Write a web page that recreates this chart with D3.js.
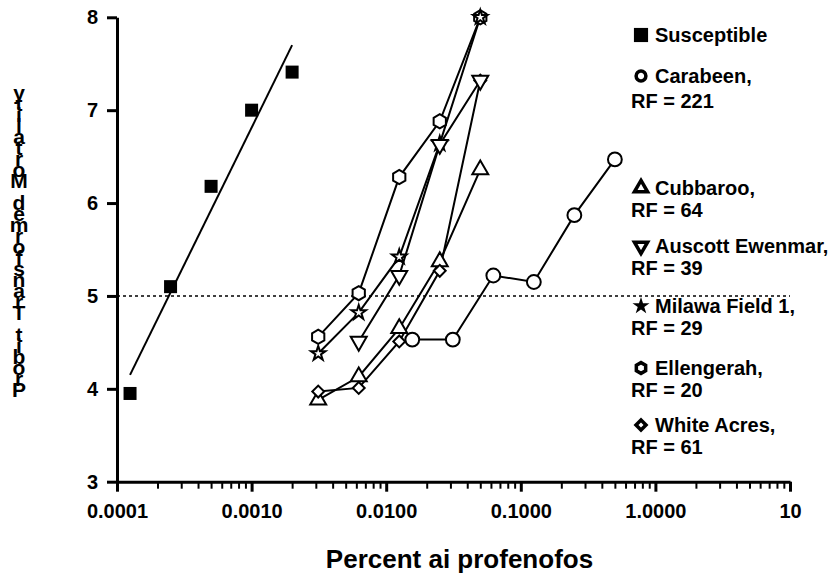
<!DOCTYPE html>
<html>
<head>
<meta charset="utf-8">
<script src="https://cdn.jsdelivr.net/npm/d3@7"></script>
<style>
  body { margin: 0; background: #fff; }
  text { font-family: "Liberation Sans", Arial, sans-serif; font-weight: bold; fill: #000; }
</style>
</head>
<body>
<div id="chart"></div>
<script>
const [width, height] = [833, 574];

// data (x = percent ai, y = probit)
const susX = [0.000125, 0.00025, 0.0005, 0.001, 0.002];
const susY = [3.95, 5.10, 6.18, 7.00, 7.41];
const fitX = [0.000125, 0.002];
const fitY = [4.15, 7.70];

const carabeenX = [0.015625, 0.03125, 0.0625, 0.125, 0.25, 0.5];
const carabeenY = [4.53, 4.53, 5.22, 5.15, 5.87, 6.47];

const doseX = [0.003125, 0.00625, 0.0125, 0.025, 0.05];
const cubbarooY = [3.88, 4.13, 4.65, 5.37, 6.36];
const auscottX = [0.00625, 0.0125, 0.025, 0.05];
const auscottY = [4.51, 5.22, 6.63, 7.32];
const milawaY = [4.38, 4.82, 5.42, 6.64, 8.0];
const ellengerahY = [4.56, 5.03, 6.28, 6.88, 8.0];
const whiteAcresY = [3.97, 4.01, 4.51, 5.27, 7.32];

const xTicks = [0.0001, 0.001, 0.01, 0.1, 1, 10];
const xTickLabels = ["0.0001", "0.0010", "0.0100", "0.1000", "1.0000", "10"];
const yTicks = [3, 4, 5, 6, 7, 8];

const legendNames = ["Susceptible", "Carabeen,", "Cubbaroo,", "Auscott Ewenmar,", "Milawa Field 1,", "Ellengerah,", "White Acres,"];
const legendRF = [null, "RF = 221", "RF = 64", "RF = 39", "RF = 29", "RF = 20", "RF = 61"];

const xTitle = "Percent ai profenofos";
const yTitle = "Probit Transformed Mortality";

// layout
const plot = {left: 117, right: 790, top: 17.3, bottom: 481.7};

const svg = d3.select("#chart")
    .append("svg")
    .attr("width", width)
    .attr("height", height);

const x = d3.scaleLog().domain([0.0001, 10]).range([plot.left, plot.right]);
const y = d3.scaleLinear().domain([3, 8]).range([plot.bottom, plot.top]);

// hexagon symbol
const hexagon = {
    draw(context, size) {
        const r = Math.sqrt(size / (1.5 * Math.sqrt(3)));
        for (let i = 0; i < 6; i++) {
            const a = Math.PI / 6 + i * Math.PI / 3;
            const px = r * Math.cos(a), py = r * Math.sin(a);
            if (i === 0) context.moveTo(px, py); else context.lineTo(px, py);
        }
        context.closePath();
    }
};

// dotted LD50 line
svg.append("line")
    .attr("x1", x(0.0001)).attr("x2", x(10))
    .attr("y1", y(5)).attr("y2", y(5))
    .attr("stroke", "#000").attr("stroke-width", 1.5)
    .attr("stroke-dasharray", "3,3");

// axes
const xMinor = [];
for (let e = -4; e < 1; e++) for (let m = 2; m <= 9; m++) xMinor.push(m * Math.pow(10, e));

const xAxisMinor = svg.append("g")
    .attr("transform", `translate(0,${plot.bottom})`)
    .call(d3.axisBottom(x).tickValues(xMinor).tickSize(7).tickFormat(""));
xAxisMinor.select(".domain").remove();
xAxisMinor.selectAll("line").attr("stroke-width", 2);

const xAxis = svg.append("g")
    .attr("transform", `translate(0,${plot.bottom})`)
    .call(d3.axisBottom(x).tickValues(xTicks).tickSize(10).tickSizeOuter(0).tickPadding(12)
        .tickFormat((d, i) => xTickLabels[i]));
xAxis.select(".domain").attr("stroke-width", 3);
xAxis.selectAll("line").attr("stroke-width", 3);
xAxis.selectAll("text").attr("font-size", 20);

const yAxis = svg.append("g")
    .attr("transform", `translate(${plot.left},0)`)
    .call(d3.axisLeft(y).tickValues(yTicks).tickSize(10).tickSizeOuter(0).tickPadding(9)
        .tickFormat(d3.format("d")));
yAxis.select(".domain").attr("stroke-width", 3);
yAxis.selectAll("line").attr("stroke-width", 3);
yAxis.selectAll("text").attr("font-size", 20);

// axis titles
svg.append("text")
    .attr("x", (plot.left + plot.right) / 2 + 6)
    .attr("y", 568)
    .attr("text-anchor", "middle")
    .attr("font-size", 26)
    .text(xTitle);

// y title: upright letters stacked tightly, reading bottom-up (as in the original)
svg.append("g").selectAll("text")
    .data(yTitle.split("").reverse())
    .enter()
    .append("text")
    .attr("x", 19)
    .attr("y", (d, i) => 100 + i * 11)
    .attr("text-anchor", "middle")
    .attr("font-size", 21)
    .text(d => d);

const line = d3.line().x(d => x(d[0])).y(d => y(d[1]));

// susceptible regression line + points
svg.append("path")
    .datum(d3.zip(fitX, fitY))
    .attr("d", line)
    .attr("fill", "none").attr("stroke", "#000").attr("stroke-width", 2);

svg.selectAll(".sus")
    .data(d3.zip(susX, susY))
    .enter()
    .append("rect")
    .attr("class", "sus")
    .attr("x", d => x(d[0]) - 6.5)
    .attr("y", d => y(d[1]) - 6.5)
    .attr("width", 13).attr("height", 13)
    .attr("fill", "#000");

// resistant strains
const series = [
    {xs: carabeenX, ys: carabeenY, sym: d3.symbolCircle, size: 150, rot: 0},
    {xs: doseX, ys: cubbarooY, sym: d3.symbolTriangle, size: 110, rot: 0},
    {xs: doseX, ys: ellengerahY, sym: hexagon, size: 130, rot: 0},
    {xs: doseX, ys: milawaY, sym: d3.symbolStar, size: 65, rot: 0},
    {xs: doseX, ys: whiteAcresY, sym: d3.symbolSquare, size: 70, rot: 45},
    {xs: auscottX, ys: auscottY, sym: d3.symbolTriangle, size: 110, rot: 180}
];

series.forEach(s => {
    svg.append("path")
        .datum(d3.zip(s.xs, s.ys))
        .attr("d", line)
        .attr("fill", "none").attr("stroke", "#000").attr("stroke-width", 2);
});

series.forEach(s => {
    svg.append("g").selectAll("path")
        .data(d3.zip(s.xs, s.ys))
        .enter()
        .append("path")
        .attr("d", d3.symbol().type(s.sym).size(s.size))
        .attr("transform", d => `translate(${x(d[0])},${y(d[1])}) rotate(${s.rot})`)
        .attr("fill", "#fff").attr("stroke", "#000").attr("stroke-width", 2);
});

// legend
const legendBase = [42, 83, 195, 253, 313, 375, 432];
const legendSym = [d3.symbolSquare, d3.symbolCircle, d3.symbolTriangle, d3.symbolTriangle, d3.symbolStar, hexagon, d3.symbolSquare];
const legendSize = [200, 75, 75, 75, 90, 75, 50];
const legendRot = [0, 0, 0, 180, 0, 0, 45];

const legend = svg.append("g");
legendNames.forEach((name, i) => {
    const by = legendBase[i];
    const filled = i === 0 || i === 4;
    legend.append("path")
        .attr("d", d3.symbol().type(legendSym[i]).size(legendSize[i]))
        .attr("transform", `translate(641,${by - 7}) rotate(${legendRot[i]})`)
        .attr("fill", filled ? "#000" : "#fff")
        .attr("stroke", "#000")
        .attr("stroke-width", filled ? 0 : 3.5);
    legend.append("text")
        .attr("x", 655).attr("y", by)
        .attr("font-size", 20)
        .text(name);
    if (legendRF[i]) {
        legend.append("text")
            .attr("x", 631).attr("y", by + 22 + (i === 1 ? 3 : 0))
            .attr("font-size", 20)
            .text(legendRF[i]);
    }
});
</script>
</body>
</html>
